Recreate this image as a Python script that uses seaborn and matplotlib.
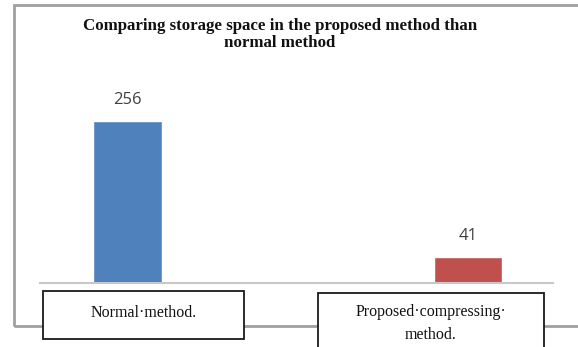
import matplotlib
matplotlib.use("Agg")
import matplotlib.pyplot as plt
from matplotlib.patches import Rectangle
import seaborn as sns
import pandas as pd

# Chart content
title = "Comparing storage space in the proposed method than\nnormal method"
categories = ["Normal method", "Proposed compressing method"]
box_labels = ["Normal·method.", "Proposed·compressing·\nmethod."]
storage = [256, 41]
bar_colors = ["#4F81BD", "#C0504D"]

W, H = 578, 347
sns.set_theme(style="white")
plt.rcParams["font.family"] = ["DejaVu Sans"]

fig = plt.figure(figsize=(W / 100, H / 100), dpi=100)
fig.patch.set_facecolor("white")


def fx(x):
    return x / W


def fy(y):
    return 1 - y / H


# plot area: baseline from x=40 to 553 px, y from 60 to 283 px
ax = fig.add_axes([fx(40), fy(283), fx(553) - fx(40), fy(60) - fy(283)])

df = pd.DataFrame({"method": categories, "storage": storage})
sns.barplot(data=df, x="method", y="storage", hue="method",
            palette=bar_colors, width=0.2, legend=False, ax=ax,
            saturation=1.0)

ax.set_xlim(-0.257, 1.25)
ax.set_ylim(0, 352)
ax.set_xlabel("")
ax.set_ylabel("")
ax.set_xticks([])
ax.set_yticks([])
for side in ("top", "right", "left"):
    ax.spines[side].set_visible(False)
ax.spines["bottom"].set_color("#C8C8C8")
ax.spines["bottom"].set_linewidth(1.5)
ax.patch.set_alpha(0)

# value labels above the bars
for i, v in enumerate(storage):
    ax.annotate(f"{v}", xy=(i, v), xytext=(0, 15), textcoords="offset points",
                ha="center", va="center", fontsize=12, color="#404040",
                family=["Open Sans", "DejaVu Sans"])

# outer chart frame (runs past the right edge)
fig.patches.append(Rectangle((fx(14), fy(326)), fx(600) - fx(14), fy(5) - fy(326),
                             transform=fig.transFigure, fill=False,
                             edgecolor="#A0A0A0", linewidth=2, zorder=0,
                             clip_on=False))

# title
fig.text(fx(280), fy(34.5), title, ha="center", va="center", fontsize=12.2,
         fontweight="bold", family=["Liberation Serif", "DejaVu Serif"],
         linespacing=1.05, color="#111111")

# category label boxes
boxes = [(43, 291, 244, 339), (318, 293, 544, 360)]
text_y = [313, 323.5]
for (x0, y0, x1, y1), lab, ty in zip(boxes, box_labels, text_y):
    fig.patches.append(Rectangle((fx(x0), fy(y1)), fx(x1) - fx(x0), fy(y0) - fy(y1),
                                 transform=fig.transFigure, facecolor="white",
                                 edgecolor="#1A1A1A", linewidth=1.3, zorder=3,
                                 clip_on=False))
    fig.text(fx((x0 + x1) / 2), fy(ty), lab, ha="center", va="center",
             fontsize=11.5, family=["Liberation Serif", "DejaVu Serif"],
             color="#111111", linespacing=1.55, zorder=4)

fig.savefig("out.png", dpi=100, facecolor="white")
